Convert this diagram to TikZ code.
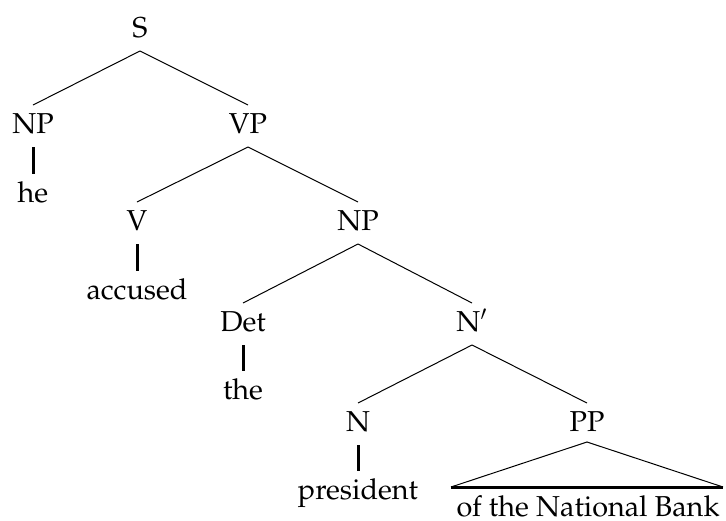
\documentclass[tikz,border=0pt]{standalone}
\usepackage[T1]{fontenc}
\usepackage{mathpazo}
\begin{document}
\begin{tikzpicture}[x=0.5pt,y=-0.5pt,
  cat/.style={anchor=base, inner sep=0pt, outer ysep=4pt,
    text height=10pt, text depth=3pt, font=\fontsize{14.4}{17}\selectfont},
  branch/.style={line width=0.5pt},
  stem/.style={line width=1.5pt}]
\useasboundingbox (0,0) rectangle (726,520);

% categories
\node[cat] (S)   at (140,37)  {S};
\node[cat] (NP1) at (33,133)  {NP};
\node[cat] (VP)  at (248,133) {VP};
\node[cat] (V)   at (137,230) {V};
\node[cat] (NP2) at (358,230) {NP};
\node[cat] (Det) at (243,331) {Det};
\node[cat] (Nb)  at (472,331) {N$'$};
\node[cat] (N)   at (358,431) {N};
\node[cat] (PP)  at (587,431) {PP};

% words
\node[cat] (he)   at (33,202)  {he};
\node[cat] (acc)  at (137,299) {accused};
\node[cat] (the)  at (243,399) {the};
\node[cat] (pres) at (358,499) {president};
\node[cat] (bank) at (588,516) {of the National Bank};

% branches
\draw[branch] (S.south) -- (NP1.north);
\draw[branch] (S.south) -- (VP.north);
\draw[branch] (VP.south) -- (V.north);
\draw[branch] (VP.south) -- (NP2.north);
\draw[branch] (NP2.south) -- (Det.north);
\draw[branch] (NP2.south) -- (Nb.north);
\draw[branch] (Nb.south) -- (N.north);
\draw[branch] (Nb.south) -- (PP.north);

% unary stems
\draw[stem] (NP1.south) -- (he.north);
\draw[stem] (V.south) -- (acc.north);
\draw[stem] (Det.south) -- (the.north);
\draw[stem] (N.south) -- (pres.north);

% roof over the PP
\coordinate (apex) at ([yshift=1.5pt]PP.south);
\coordinate (tl) at (451,487);
\coordinate (tr) at (723,487);
\draw[branch] (tl) -- (apex) -- (tr);
\draw[stem] (tl) -- (tr);
\end{tikzpicture}
\end{document}
